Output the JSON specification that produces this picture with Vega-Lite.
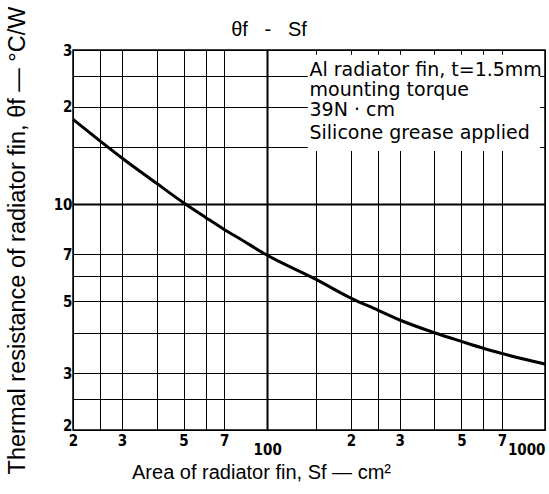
{
  "$schema": "https://vega.github.io/schema/vega-lite/v6.json",
  "width": 472,
  "height": 380,
  "autosize": {"type": "none"},
  "padding": {"left": 73, "top": 50, "right": 4, "bottom": 64},
  "background": "white",
  "title": {"text": "θf\u00a0\u00a0\u00a0-\u00a0\u00a0\u00a0Sf", "font": "Liberation Sans", "fontSize": 20, "fontWeight": "normal", "color": "black", "anchor": "middle", "frame": "group", "dx": -40, "dy": 39, "offset": 5},
  "config": {
    "view": {"stroke": "black", "strokeWidth": 1.5},
    "axis": {"gridColor": "black", "gridOpacity": 1, "domain": false, "ticks": false, "labelFlush": false, "labelOverlap": false, "labelColor": "black", "labelFont": "Liberation Sans Narrow, DejaVu Sans Condensed, Liberation Sans", "labelFontWeight": "bold", "labelFontSize": 15, "titleColor": "black", "titleFont": "Liberation Sans", "titleFontWeight": "normal", "titleFontSize": 20}
  },
  "layer": [
    {
      "data": {"values": [{"area": 140, "area2": 960, "res": 14.6, "res2": 29}]},
      "mark": {"type": "rect", "fill": "white", "stroke": null},
      "encoding": {
        "x": {"field": "area", "type": "quantitative", "scale": {"type": "log", "domain": [20, 1000], "nice": false},
          "axis": {
            "values": [20, 25, 30, 40, 50, 60, 70, 100, 150, 200, 250, 300, 400, 500, 600, 700, 1000],
            "grid": true,
            "gridWidth": {"condition": {"test": "datum.value == 100", "value": 2}, "value": 1},
            "labelExpr": "datum.value == 100 ? '100' : datum.value == 1000 ? '1000' : indexof([20,30,50,70], datum.value) >= 0 ? format(datum.value / 10, 'd') : indexof([200,300,500,700], datum.value) >= 0 ? format(datum.value / 100, 'd') : ''",
            "labelPadding": {"condition": {"test": "datum.value == 100 || datum.value == 1000", "value": 12}, "value": 3},
            "labelAlign": {"condition": {"test": "datum.value == 1000", "value": "right"}, "value": "center"},
            "title": "Area of radiator fin, Sf — cm²",
            "titleX": 188, "titleY": 42, "titleAlign": "center", "titleBaseline": "middle"
          }},
        "x2": {"field": "area2"},
        "y": {"field": "res", "type": "quantitative", "scale": {"type": "log", "domain": [2, 30], "nice": false},
          "axis": {
            "values": [2, 2.5, 3, 4, 5, 6, 7, 10, 15, 20, 25, 30],
            "grid": true,
            "gridWidth": {"condition": {"test": "datum.value == 10", "value": 2}, "value": 1},
            "labelExpr": "datum.value == 10 ? '10' : indexof([2,3,5,7], datum.value) >= 0 ? format(datum.value, 'd') : indexof([20,30], datum.value) >= 0 ? format(datum.value / 10, 'd') : ''",
            "labelPadding": 1,
            "labelBaseline": {"condition": {"test": "datum.value == 2", "value": "alphabetic"}, "value": "middle"},
            "title": "Thermal resistance of radiator fin, θf — °C/W",
            "titleX": -56, "titleY": 190, "titleAlign": "center", "titleBaseline": "middle", "titleAngle": -90, "titleFontSize": 23.5
          }},
        "y2": {"field": "res2"}
      }
    },
    {
      "data": {"values": [
        {"area": 20, "res": 18.3},
        {"area": 25, "res": 15.7},
        {"area": 30, "res": 13.9},
        {"area": 40, "res": 11.6},
        {"area": 50, "res": 10.1},
        {"area": 60, "res": 9.1},
        {"area": 70, "res": 8.35},
        {"area": 80, "res": 7.8},
        {"area": 100, "res": 6.95},
        {"area": 150, "res": 5.85},
        {"area": 200, "res": 5.12},
        {"area": 250, "res": 4.7},
        {"area": 300, "res": 4.38},
        {"area": 400, "res": 4.0},
        {"area": 500, "res": 3.76},
        {"area": 600, "res": 3.58},
        {"area": 700, "res": 3.45},
        {"area": 1000, "res": 3.2}
      ]},
      "mark": {"type": "line", "color": "black", "strokeWidth": 3, "interpolate": "monotone"},
      "encoding": {
        "x": {"field": "area", "type": "quantitative"},
        "y": {"field": "res", "type": "quantitative"}
      }
    },
    {
      "data": {"values": [
        {"area": 142, "res": 24.9, "label": "Al radiator fin, t=1.5mm"},
        {"area": 142, "res": 21.6, "label": "mounting torque"},
        {"area": 142, "res": 18.75, "label": "39N · cm"},
        {"area": 142, "res": 15.9, "label": "Silicone grease applied"}
      ]},
      "mark": {"type": "text", "align": "left", "baseline": "alphabetic", "font": "DejaVu Sans", "fontSize": 19, "color": "black"},
      "encoding": {
        "x": {"field": "area", "type": "quantitative"},
        "y": {"field": "res", "type": "quantitative"},
        "text": {"field": "label"}
      }
    }
  ]
}
